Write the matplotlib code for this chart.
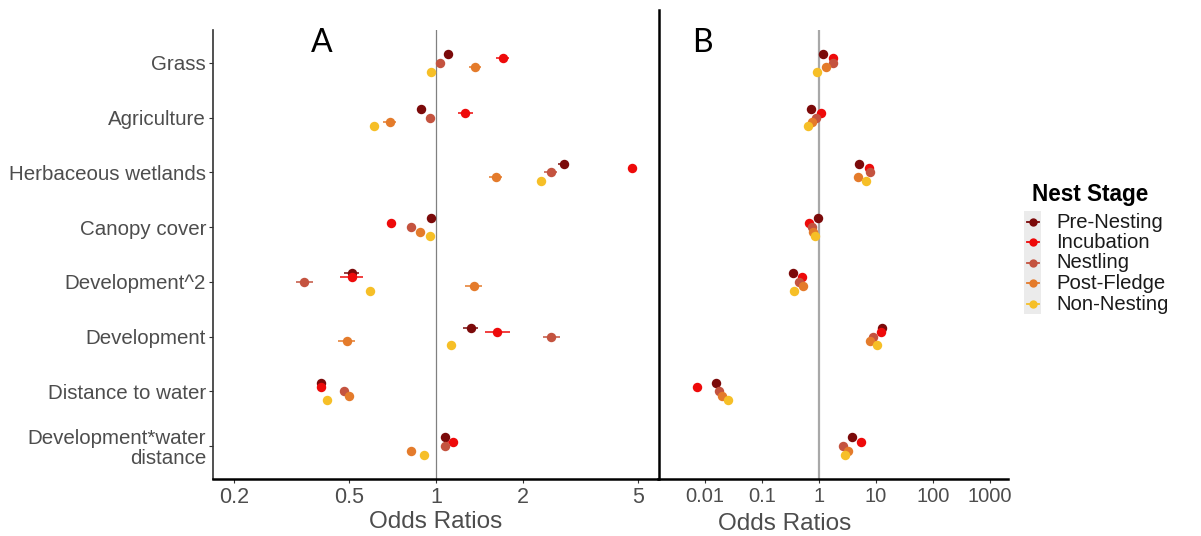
import numpy as np
import matplotlib
matplotlib.use("Agg")
import matplotlib.pyplot as plt
from matplotlib.patches import Rectangle
from matplotlib.lines import Line2D
from matplotlib.ticker import NullLocator

plt.rcParams['font.family'] = ['Liberation Sans', 'DejaVu Sans']

variables = ["Grass", "Agriculture", "Herbaceous wetlands", "Canopy cover",
             "Development^2", "Development", "Distance to water",
             "Development*water\ndistance"]
stages = ["Pre-Nesting", "Incubation", "Nestling", "Post-Fledge", "Non-Nesting"]
stage_colors = ["#7B0A0A", "#EE0A0A", "#C4533F", "#E47B2B", "#F6BF27"]

# Panel A: odds ratios and confidence limits
a_pre_est = [1.10, 0.89, 2.77, 0.96, 0.51, 1.32, 0.40, 1.07]
a_pre_lo  = [1.065, 0.862, 2.651, 0.937, 0.480, 1.243, 0.391, 1.045]
a_pre_hi  = [1.136, 0.919, 2.894, 0.983, 0.541, 1.401, 0.410, 1.096]

a_inc_est = [1.70, 1.26, 4.75, 0.70, 0.51, 1.63, 0.40, 1.14]
a_inc_lo  = [1.614, 1.187, 4.601, 0.683, 0.465, 1.476, 0.391, 1.091]
a_inc_hi  = [1.790, 1.338, 4.904, 0.717, 0.559, 1.801, 0.410, 1.191]

a_nes_est = [1.03, 0.95, 2.49, 0.82, 0.35, 2.50, 0.48, 1.07]
a_nes_lo  = [0.998, 0.920, 2.364, 0.801, 0.327, 2.336, 0.469, 1.045]
a_nes_hi  = [1.063, 0.981, 2.622, 0.840, 0.375, 2.675, 0.492, 1.096]

a_pos_est = [1.36, 0.69, 1.61, 0.88, 1.35, 0.49, 0.50, 0.82]
a_pos_lo  = [1.296, 0.655, 1.529, 0.859, 1.262, 0.456, 0.488, 0.801]
a_pos_hi  = [1.427, 0.727, 1.696, 0.901, 1.445, 0.526, 0.512, 0.840]

a_non_est = [0.96, 0.61, 2.31, 0.95, 0.59, 1.13, 0.42, 0.91]
a_non_lo  = [0.937, 0.596, 2.255, 0.928, 0.576, 1.103, 0.410, 0.888]
a_non_hi  = [0.983, 0.625, 2.366, 0.973, 0.604, 1.157, 0.430, 0.932]

# Panel B: odds ratios
b_pre_est = [1.16, 0.72, 5.1, 0.97, 0.35, 12.7, 0.0158, 3.84]
b_inc_est = [1.76, 1.08, 7.5, 0.68, 0.50, 12.1, 0.0072, 5.45]
b_nes_est = [1.78, 0.89, 7.95, 0.75, 0.45, 8.75, 0.0176, 2.67]
b_pos_est = [1.33, 0.75, 4.77, 0.79, 0.53, 7.85, 0.020, 3.27]
b_non_est = [0.91, 0.65, 6.76, 0.86, 0.37, 10.4, 0.0256, 2.86]

a_ticks = [0.2, 0.5, 1, 2, 5]
a_ticklabels = ["0.2", "0.5", "1", "2", "5"]
b_ticks = [0.01, 0.1, 1, 10, 100, 1000]
b_ticklabels = ["0.01", "0.1", "1", "10", "100", "1000"]

A_series = [(a_pre_est, a_pre_lo, a_pre_hi), (a_inc_est, a_inc_lo, a_inc_hi),
            (a_nes_est, a_nes_lo, a_nes_hi), (a_pos_est, a_pos_lo, a_pos_hi),
            (a_non_est, a_non_lo, a_non_hi)]
B_series = [b_pre_est, b_inc_est, b_nes_est, b_pos_est, b_non_est]

W, H = 1201, 536
fig = plt.figure(figsize=(W / 100, H / 100), dpi=100)

def px_axes(x0, x1, y0, y1):
    return fig.add_axes([x0 / W, 1 - y1 / H, (x1 - x0) / W, (y1 - y0) / H])

axA = px_axes(213, 658, 30, 479)
axB = px_axes(658, 1008, 30, 479)

base = np.arange(len(variables))
step = 0.08
tick_color = "#4D4D4D"

# Panel A
axA.axvline(1, color="#808080", lw=0.9, zorder=1)
for s, (est, lo, hi) in enumerate(A_series):
    est = np.array(est); lo = np.array(lo); hi = np.array(hi)
    y = base + (s - 2) * step
    axA.errorbar(est, y, xerr=[est - lo, hi - est], fmt='o', ms=6.8,
                 color=stage_colors[s], ecolor=stage_colors[s], elinewidth=1.1,
                 capsize=0, mew=0, zorder=3)
axA.set_xscale('log')
axA.set_xlim(0.169, 5.86)
axA.set_xticks(a_ticks)
axA.set_xticklabels(a_ticklabels)
axA.xaxis.set_minor_locator(NullLocator())
axA.set_ylim(len(variables) - 0.4, -0.6)
axA.set_yticks(base)
axA.set_yticklabels(variables, linespacing=1.05)
axA.tick_params(axis='y', labelsize=14.8, colors="#333333", labelcolor=tick_color,
                length=3, width=0.8, pad=2)
axA.tick_params(axis='x', labelsize=15.5, colors="#333333", labelcolor=tick_color,
                length=3, width=0.8, pad=3)
for sp in ["top", "right"]:
    axA.spines[sp].set_visible(False)
axA.spines["left"].set_color("#333333")
axA.spines["left"].set_linewidth(1.2)
axA.spines["bottom"].set_color("black")
axA.spines["bottom"].set_linewidth(1.8)
axA.set_xlabel("Odds Ratios", fontsize=17.5, color=tick_color, labelpad=2)
axA.patch.set_alpha(0)

# Panel B
axB.axvline(1, color="#A8A8A8", lw=1.6, zorder=1)
for s, est in enumerate(B_series):
    y = base + (s - 2) * step
    axB.plot(est, y, 'o', ms=6.8, color=stage_colors[s], mew=0, zorder=3)
axB.set_xscale('log')
axB.set_xlim(0.0015, 2070)
axB.set_xticks(b_ticks)
axB.set_xticklabels(b_ticklabels)
axB.xaxis.set_minor_locator(NullLocator())
axB.set_ylim(len(variables) - 0.4, -0.6)
axB.set_yticks([])
axB.tick_params(axis='x', labelsize=14.5, colors="#333333", labelcolor=tick_color,
                length=3, width=0.8, pad=3)
for sp in ["top", "right", "left"]:
    axB.spines[sp].set_visible(False)
axB.spines["bottom"].set_color("black")
axB.spines["bottom"].set_linewidth(1.8)
axB.set_xlabel("Odds Ratios", fontsize=17.5, color=tick_color, labelpad=2)
axB.xaxis.set_label_coords((785 - 658) / 350, -0.075)
axB.patch.set_alpha(0)

# Divider line between panels
fig.add_artist(Line2D([658.7 / W, 658.7 / W], [1 - 10 / H, 1 - 479 / H],
                      color="black", lw=1.8, transform=fig.transFigure))

# Panel letters
fig.text(322 / W, 1 - 43 / H, "A", fontsize=23, family=["Lato", "DejaVu Sans"],
         ha="center", va="center", color="black")
fig.text(702 / W, 1 - 43 / H, "B", fontsize=23, family=["Lato", "DejaVu Sans"],
         ha="center", va="center", color="black")

# Legend
lg = px_axes(1020, 1201, 180, 315)
lg.set_xlim(1020, 1201)
lg.set_ylim(315, 180)
lg.axis("off")
lg.text(1032, 194, "Nest Stage", fontsize=16.3, fontweight="bold", ha="left",
        va="center", color="black")
row_h = 20.5
for s, name in enumerate(stages):
    yc = 221.5 + s * row_h
    lg.add_patch(Rectangle((1024, yc - row_h / 2), 17, row_h, facecolor="#EBEBEB",
                           edgecolor="none"))
    lg.plot([1027, 1039], [yc, yc], color=stage_colors[s], lw=1.3)
    lg.plot([1033], [yc], 'o', ms=6, color=stage_colors[s], mew=0)
    lg.text(1056, yc + 0.5, name, fontsize=14.6, ha="left", va="center", color="#1A1A1A")

fig.savefig("out.png", dpi=100)
